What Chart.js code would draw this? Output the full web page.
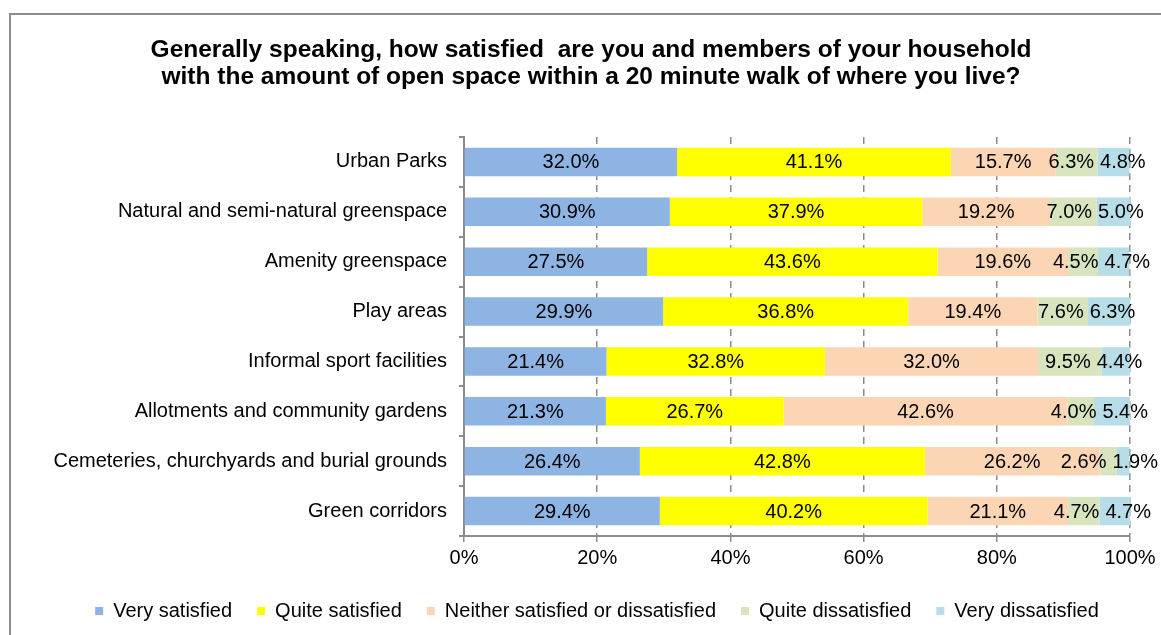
<!DOCTYPE html>
<html>
<head>
<meta charset="utf-8">
<script src="https://cdn.jsdelivr.net/npm/chart.js@4/dist/chart.umd.min.js"></script>
<style>
  html, body { margin: 0; padding: 0; background: #fff; overflow: hidden; }
  #frame {
    position: absolute; left: 9px; top: 13px; width: 1200px; height: 700px;
    border-left: 2px solid #8c8c8c; border-top: 2px solid #8c8c8c;
  }
  #wrap { position: absolute; left: 0; top: 0; width: 1161px; height: 635px; }
</style>
</head>
<body>
<div id="frame"></div>
<div id="wrap"><canvas id="chart"></canvas></div>
<script>
"use strict";

// ─── Data ────────────────────────────────────────────────────────────────────

const CATEGORIES = [
    "Urban Parks",
    "Natural and semi-natural greenspace",
    "Amenity greenspace",
    "Play areas",
    "Informal sport facilities",
    "Allotments and community gardens",
    "Cemeteries, churchyards and burial grounds",
    "Green corridors"
];

const VERY_SATISFIED     = [32.0, 30.9, 27.5, 29.9, 21.4, 21.3, 26.4, 29.4];
const QUITE_SATISFIED    = [41.1, 37.9, 43.6, 36.8, 32.8, 26.7, 42.8, 40.2];
const NEITHER            = [15.7, 19.2, 19.6, 19.4, 32.0, 42.6, 26.2, 21.1];
const QUITE_DISSATISFIED = [6.3, 7.0, 4.5, 7.6, 9.5, 4.0, 2.6, 4.7];
const VERY_DISSATISFIED  = [4.8, 5.0, 4.7, 6.3, 4.4, 5.4, 1.9, 4.7];

const X_TICKS = [0, 20, 40, 60, 80, 100];

const FONT = "'Liberation Sans', Arial, sans-serif";

const SERIES = [
    { label: "Very satisfied",                      data: VERY_SATISFIED,     color: "#8eb4e3" },
    { label: "Quite satisfied",                     data: QUITE_SATISFIED,    color: "#ffff00" },
    { label: "Neither satisfied or dissatisfied",   data: NEITHER,            color: "#fcd5b5" },
    { label: "Quite dissatisfied",                  data: QUITE_DISSATISFIED, color: "#d7e4bd" },
    { label: "Very dissatisfied",                   data: VERY_DISSATISFIED,  color: "#b7dee8" }
];

// ─── Plugins ─────────────────────────────────────────────────────────────────

// value labels centred in each stacked segment, nudged apart where they collide
const segmentLabels = {
    id: "segmentLabels",
    afterDatasetsDraw(chart) {
        const ctx = chart.ctx;
        const gap = 6;
        const maxRight = chart.width - 3;
        ctx.save();
        ctx.font = "20px " + FONT;
        ctx.fillStyle = "#000";
        ctx.textAlign = "center";
        ctx.textBaseline = "middle";

        const nDs = chart.data.datasets.length;
        chart.data.labels.forEach(function(cat, j) {
            var items = [];
            for (var i = 0; i < nDs; i++) {
                var bar = chart.getDatasetMeta(i).data[j];
                var txt = chart.data.datasets[i].data[j].toFixed(1) + "%";
                items.push({ txt: txt, x: (bar.x + bar.base) / 2, y: bar.y, w: ctx.measureText(txt).width });
            }
            for (var pass = 0; pass < 6; pass++) {
                for (var k = 0; k < items.length - 1; k++) {
                    var a = items[k], b = items[k + 1];
                    var need = (a.w + b.w) / 2 + gap;
                    var have = b.x - a.x;
                    if (have < need) {
                        var d = need - have;
                        a.x -= d * 0.35;
                        b.x += d * 0.65;
                    }
                }
            }
            // keep the last label inside the canvas, pushing the others left
            var last = items[items.length - 1];
            if (last.x + last.w / 2 > maxRight) { last.x = maxRight - last.w / 2; }
            for (var m = items.length - 2; m >= 0; m--) {
                var lim = items[m + 1].x - (items[m].w + items[m + 1].w) / 2 - gap;
                if (items[m].x > lim) { items[m].x = lim; }
            }
            items.forEach(function(it) { ctx.fillText(it.txt, it.x, it.y + 1); });
        });
        ctx.restore();
    }
};

// legend sits a little right of the title centre in the original
const legendNudge = {
    id: "legendNudge",
    afterLayout(chart) {
        if (chart.legend) {
            chart.legend.left += 6;
            chart.legend.right += 6;
        }
    }
};

// ─── Chart ───────────────────────────────────────────────────────────────────

Chart.defaults.font.family = FONT;
Chart.defaults.color = "#000";

new Chart(document.getElementById("chart"), {
    type: "bar",
    data: {
        labels: CATEGORIES,
        datasets: SERIES.map(function(s) {
            return {
                label: s.label,
                data: s.data,
                backgroundColor: s.color,
                borderWidth: 0,
                barPercentage: 0.57,
                categoryPercentage: 1.0
            };
        })
    },
    options: {
        indexAxis: "y",
        responsive: true,
        maintainAspectRatio: false,
        animation: false,
        layout: { padding: { left: 52, right: 31, top: 0, bottom: 4 } },
        plugins: {
            title: {
                display: true,
                text: [
                    "Generally speaking, how satisfied  are you and members of your household",
                    "with the amount of open space within a 20 minute walk of where you live?"
                ],
                font: { size: 24.5, weight: "bold", lineHeight: 27 / 24.5 },
                color: "#000",
                padding: { top: 37, bottom: 46 }
            },
            legend: {
                position: "bottom",
                labels: {
                    boxWidth: 8,
                    boxHeight: 8,
                    padding: 25,
                    font: { size: 20 },
                    color: "#000"
                }
            },
            tooltip: { enabled: false }
        },
        scales: {
            x: {
                stacked: true,
                min: 0,
                max: 100,
                afterBuildTicks: function(axis) {
                    axis.ticks = X_TICKS.map(function(v) { return { value: v }; });
                },
                afterFit: function(axis) { axis.height = 40; },
                ticks: {
                    font: { size: 20 },
                    color: "#000",
                    padding: 4,
                    callback: function(v) { return v + "%"; }
                },
                grid: {
                    color: "#8c8c8c",
                    lineWidth: 1.5,
                    tickLength: 6
                },
                border: { display: true, color: "#8c8c8c", width: 2, dash: [7, 5] }
            },
            y: {
                stacked: true,
                afterFit: function(axis) { axis.width = 412; },
                ticks: {
                    font: { size: 20 },
                    color: "#000",
                    padding: 12
                },
                grid: {
                    drawOnChartArea: false,
                    drawTicks: true,
                    tickLength: 5,
                    color: "#8c8c8c",
                    lineWidth: 2
                },
                border: { display: true, color: "#8c8c8c", width: 2 }
            }
        }
    },
    plugins: [segmentLabels, legendNudge]
});
</script>
</body>
</html>
